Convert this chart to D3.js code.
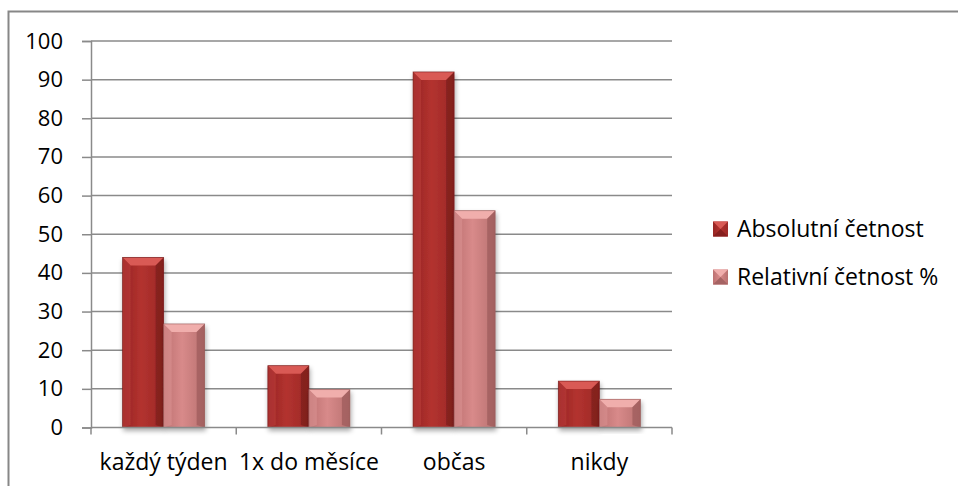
<!DOCTYPE html>
<html>
<head>
<meta charset="utf-8">
<script src="https://cdn.jsdelivr.net/npm/d3@7"></script>
<style>
  html, body { margin: 0; padding: 0; background: #fff; }
  svg { display: block; }
  text { font-family: "Open Sans", Lato, sans-serif; fill: #000; }
</style>
</head>
<body>
<svg id="chart" width="958" height="486"></svg>
<script>
const categories = ["každý týden", "1x do měsíce", "občas", "nikdy"];
const seriesNames = ["Absolutní četnost", "Relativní četnost %"];
const absolutni = [44, 16, 92, 12];
const relativni = [26.8, 9.8, 56.1, 7.3];
const yTicks = [0, 10, 20, 30, 40, 50, 60, 70, 80, 90, 100];

const FONT = "'Open Sans', Lato, sans-serif";
const FS = 23;
const FS_TICK = 22;

const svg = d3.select("#chart");
const defs = svg.append("defs");

const W = 958, H = 486;
const plot = { left: 91, right: 672, top: 41, bottom: 427.5 };

// outer frame
svg.append("rect")
  .attr("x", 8.5).attr("y", 11.5)
  .attr("width", W + 20).attr("height", H + 20)
  .attr("fill", "#fff").attr("stroke", "#878787").attr("stroke-width", 2);

const x0 = d3.scaleBand().domain(categories).range([plot.left, plot.right]).paddingInner(0).paddingOuter(0);
const x1 = d3.scaleBand().domain(seriesNames).range([0, x0.bandwidth()]).paddingOuter(0.77).paddingInner(0);
const y = d3.scaleLinear().domain([0, 100]).range([plot.bottom, plot.top]);

// gridlines
svg.append("g").selectAll("line").data(yTicks.filter(d => d > 0)).join("line")
  .attr("x1", plot.left).attr("x2", plot.right)
  .attr("y1", d => y(d)).attr("y2", d => y(d))
  .attr("stroke", "#8a8a8a").attr("stroke-width", 1.5);

// y axis
const yAxis = svg.append("g").attr("transform", `translate(${plot.left},0)`)
  .call(d3.axisLeft(y).tickValues(yTicks).tickSize(9).tickPadding(19).tickFormat(d3.format("d")));
yAxis.select(".domain").attr("stroke", "#8a8a8a").attr("stroke-width", 1.5);
yAxis.selectAll(".tick line").attr("stroke", "#8a8a8a").attr("stroke-width", 1.5);
yAxis.selectAll(".tick text").attr("font-size", FS_TICK).attr("font-family", FONT).attr("fill", "#000");

// shadow filter
const filt = defs.append("filter").attr("id", "shadow").attr("x", "-20%").attr("y", "-10%").attr("width", "140%").attr("height", "130%");
filt.append("feGaussianBlur").attr("in", "SourceAlpha").attr("stdDeviation", 2.5).attr("result", "b");
filt.append("feOffset").attr("in", "b").attr("dx", 1).attr("dy", 3).attr("result", "o");
filt.append("feComponentTransfer").attr("in", "o").attr("result", "o2")
  .append("feFuncA").attr("type", "linear").attr("slope", 0.35);
const fm = filt.append("feMerge");
fm.append("feMergeNode").attr("in", "o2");
fm.append("feMergeNode").attr("in", "SourceGraphic");

const palette = {
  "Absolutní četnost": { face: ["#962523", "#b3322f", "#9c2927"], top: "#d95a55", left: "#c0413d", right: "#701817", bottom: "#861f1e" },
  "Relativní četnost %": { face: ["#bd7171", "#d88a8a", "#b97170"], top: "#f0aeac", left: "#e09a98", right: "#925453", bottom: "#a56363" }
};
Object.entries(palette).forEach(([k, p], i) => {
  const g = defs.append("linearGradient").attr("id", "face" + i).attr("x1", 0).attr("x2", 1).attr("y1", 0).attr("y2", 0);
  g.append("stop").attr("offset", "0%").attr("stop-color", p.face[0]);
  g.append("stop").attr("offset", "45%").attr("stop-color", p.face[1]);
  g.append("stop").attr("offset", "100%").attr("stop-color", p.face[2]);
});

const data = categories.map((c, i) => ({ cat: c, vals: [
  { s: seriesNames[0], v: absolutni[i], idx: 0 },
  { s: seriesNames[1], v: relativni[i], idx: 1 }
]}));

function bevelBar(g, x, yTop, w, h, idx, p, bev) {
  const b = Math.min(bev, h / 2, w / 2);
  const x2 = x + w, y2 = yTop + h;
  const bg = g.append("g").attr("filter", "url(#shadow)");
  bg.append("rect").attr("x", x).attr("y", yTop).attr("width", w).attr("height", h).attr("fill", `url(#face${idx})`);
  bg.append("polygon").attr("points", [[x, yTop], [x2, yTop], [x2 - b, yTop + b], [x + b, yTop + b]].join(" ")).attr("fill", p.top);
  bg.append("polygon").attr("points", [[x, yTop], [x + b, yTop + b], [x + b, y2 - b * 0.3], [x, y2]].join(" ")).attr("fill", p.left).attr("opacity", 0.45);
  bg.append("polygon").attr("points", [[x2, yTop], [x2 - b, yTop + b], [x2 - b, y2 - b * 0.3], [x2, y2]].join(" ")).attr("fill", p.right).attr("opacity", 0.55);
  bg.append("rect").attr("x", x).attr("y", yTop).attr("width", w).attr("height", h).attr("fill", "none").attr("stroke", p.right).attr("stroke-width", 0.8).attr("opacity", 0.7);
}

const barsG = svg.append("g");
data.forEach(d => {
  d.vals.forEach(v => {
    const bx = x0(d.cat) + x1(v.s);
    const w = x1.bandwidth();
    bevelBar(barsG, bx, y(v.v), w, y(0) - y(v.v), v.idx, palette[v.s], 8);
  });
});

// x axis
const xAxis = svg.append("g").attr("transform", `translate(0,${plot.bottom})`)
  .call(d3.axisBottom(x0).tickSize(0).tickPadding(26));
xAxis.select(".domain").attr("stroke", "#8a8a8a").attr("stroke-width", 1.5).attr("d", `M${plot.left},0H${plot.right}`);
xAxis.selectAll(".tick text").attr("font-size", FS).attr("font-family", FONT).attr("fill", "#000");
// category boundary ticks
const bounds = categories.map(c => x0(c)).concat([plot.right]);
xAxis.append("g").selectAll("line").data(bounds).join("line")
  .attr("x1", d => d).attr("x2", d => d).attr("y1", 0).attr("y2", 7)
  .attr("stroke", "#8a8a8a").attr("stroke-width", 1.5);

// legend
const legend = svg.append("g").attr("transform", "translate(713,0)");
const legY = [229, 277];
seriesNames.forEach((s, i) => {
  const p = palette[s];
  const g = legend.append("g").attr("transform", `translate(0,${legY[i]})`);
  const sz = 15;
  g.append("rect").attr("x", 0).attr("y", -sz / 2).attr("width", sz).attr("height", sz).attr("fill", `url(#face${i})`);
  g.append("polygon").attr("points", [[0, -sz/2], [sz, -sz/2], [sz/2, 0]].join(" ")).attr("fill", p.top);
  g.append("polygon").attr("points", [[0, sz/2], [sz, sz/2], [sz/2, 0]].join(" ")).attr("fill", p.bottom);
  g.append("text").attr("x", sz + 9).attr("y", 0).attr("dy", "0.35em")
    .attr("font-size", FS).attr("font-family", FONT).text(s);
});
</script>
</body>
</html>
